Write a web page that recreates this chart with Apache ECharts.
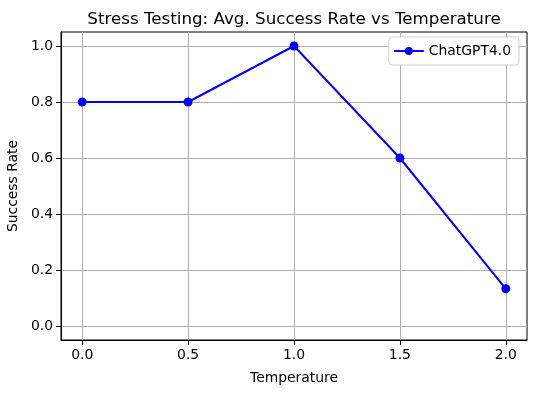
<!DOCTYPE html>
<html>
<head>
<meta charset="utf-8">
<script src="https://cdn.jsdelivr.net/npm/echarts@6/dist/echarts.min.js"></script>
<style>html,body{margin:0;padding:0;background:#fff}#c{width:536px;height:393px}</style>
</head>
<body>
<div id="c"></div>
<script>
var temperatures = [0.0, 0.5, 1.0, 1.5, 2.0];
var successRate = [0.8, 0.8, 1.0, 0.6, 0.133];
var xTicks = [0.0, 0.5, 1.0, 1.5, 2.0];
var yTicks = [0.0, 0.2, 0.4, 0.6, 0.8, 1.0];
var seriesName = 'ChatGPT4.0';

var font = 'DejaVu Sans';
var chart = echarts.init(document.getElementById('c'), null, {renderer: 'canvas'});
chart.setOption({
  animation: false,
  backgroundColor: '#fff',
  title: {
    text: 'Stress Testing: Avg. Success Rate vs Temperature',
    left: 289, top: 6, textAlign: 'center',
    textStyle: {fontFamily: font, fontSize: 16.7, fontWeight: 'normal', color: '#000'}
  },
  legend: {
    right: 17, top: 37,
    backgroundColor: '#fff', borderColor: '#d0d0d0', borderWidth: 1, borderRadius: 3,
    padding: [7, 8, 7, 4],
    itemWidth: 30, itemHeight: 10, itemGap: 8,
    textStyle: {fontFamily: font, fontSize: 13.9, color: '#000'},
    data: [{name: seriesName}]
  },
  grid: {left: 61, top: 32, right: 9, bottom: 53, show: true, borderColor: '#000', borderWidth: 1,
    containLabel: false, outerBoundsMode: 'none'},
  xAxis: {
    type: 'value', min: -0.1, max: 2.1,
    name: 'Temperature', nameLocation: 'middle', nameGap: 31,
    nameTextStyle: {fontFamily: font, fontSize: 13.9, color: '#000'},
    axisLine: {show: true, onZero: false, lineStyle: {color: '#000', width: 1}},
    axisTick: {show: true, length: 5, customValues: xTicks, lineStyle: {color: '#000'}},
    axisLabel: {customValues: xTicks, fontFamily: font, fontSize: 13.9, color: '#000', margin: 8,
      formatter: function (v) { return Number(v).toFixed(1); }},
    splitLine: {show: true, lineStyle: {color: '#b0b0b0', width: 1}}
  },
  yAxis: {
    type: 'value', min: -0.05, max: 1.05,
    name: 'Success Rate', nameLocation: 'middle', nameGap: 35, nameRotate: 90,
    nameTextStyle: {fontFamily: font, fontSize: 13.9, color: '#000'},
    axisLine: {show: true, onZero: false, lineStyle: {color: '#000', width: 1}},
    axisTick: {show: true, length: 5, customValues: yTicks, lineStyle: {color: '#000'}},
    axisLabel: {customValues: yTicks, fontFamily: font, fontSize: 13.9, color: '#000', margin: 8,
      formatter: function (v) { return Number(v).toFixed(1); }},
    splitLine: {show: true, lineStyle: {color: '#b0b0b0', width: 1}}
  },
  series: [{
    name: seriesName, type: 'line',
    data: temperatures.map(function (t, i) { return [t, successRate[i]]; }),
    symbol: 'circle', symbolSize: 9,
    lineStyle: {color: '#0000ff', width: 2},
    itemStyle: {color: '#0000ff'}
  }]
});
</script>
</body>
</html>
